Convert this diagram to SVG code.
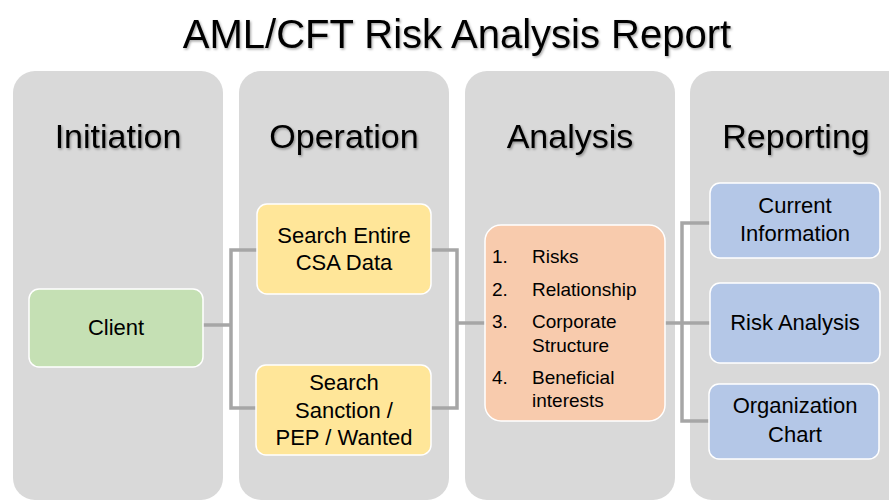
<svg xmlns="http://www.w3.org/2000/svg" width="889" height="501" viewBox="0 0 889 501">
<defs>
<style>
.col{fill:#D9D9D9}
.hdr{font-family:"Liberation Sans",Arial,sans-serif;font-size:34px;fill:#000;text-anchor:middle;filter:url(#sh)}
.ttl{font-family:"Liberation Sans",Arial,sans-serif;font-size:40px;fill:#000;text-anchor:middle;filter:url(#sh)}
.node{stroke:#FFFFFF;stroke-width:1.5}
.t{font-family:"Liberation Sans",Arial,sans-serif;font-size:22px;fill:#000;text-anchor:middle}
.l{font-family:"Liberation Sans",Arial,sans-serif;font-size:19px;fill:#000}
.con{fill:none;stroke:#A6A6A6;stroke-width:3.5}
</style>
<filter id="sh" x="-10%" y="-20%" width="120%" height="150%">
<feDropShadow dx="1.2" dy="1.5" stdDeviation="1" flood-color="#000" flood-opacity="0.35"/>
</filter>
</defs>
<rect width="889" height="501" fill="#FFFFFF"/>
<text class="ttl" x="457" y="48">AML/CFT Risk Analysis Report</text>

<g id="col-initiation">
<rect class="col" x="13" y="71" width="210" height="429" rx="22"/>
<text class="hdr" x="118" y="148">Initiation</text>
</g>
<g id="col-operation">
<rect class="col" x="239" y="71" width="210" height="429" rx="22"/>
<text class="hdr" x="344" y="148">Operation</text>
</g>
<g id="col-analysis">
<rect class="col" x="465" y="71" width="210" height="429" rx="22"/>
<text class="hdr" x="570" y="148">Analysis</text>
</g>
<g id="col-reporting">
<rect class="col" x="690" y="71" width="230" height="429" rx="22"/>
<text class="hdr" x="796" y="148">Reporting</text>
</g>

<g id="connectors">
<polyline class="con" points="203,325 231,325"/>
<polyline class="con" points="257,250 231,250 231,408 256,408"/>
<polyline class="con" points="431,250 457,250 457,408 431,408"/>
<polyline class="con" points="457,323 486,323"/>
<polyline class="con" points="665,323 710,323"/>
<polyline class="con" points="710,223 682,223 682,421 709,421"/>
</g>

<g id="node-client">
<rect class="node" x="29" y="289" width="174" height="78" rx="10" fill="#C5E0B4"/>
<text class="t" x="116" y="335">Client</text>
</g>
<g id="node-search-csa">
<rect class="node" x="257" y="204" width="174" height="90" rx="10" fill="#FFE699"/>
<text class="t" x="344" y="243">Search Entire</text>
<text class="t" x="344" y="270">CSA Data</text>
</g>
<g id="node-search-sanction">
<rect class="node" x="256" y="365" width="175" height="90" rx="10" fill="#FFE699"/>
<text class="t" x="344" y="390">Search</text>
<text class="t" x="344" y="418">Sanction /</text>
<text class="t" x="344" y="445">PEP / Wanted</text>
</g>
<g id="node-analysis">
<rect class="node" x="485" y="225" width="180" height="196" rx="16" fill="#F8CBAD"/>
<text class="l" x="492" y="263">1.</text><text class="l" x="532" y="263">Risks</text>
<text class="l" x="492" y="296">2.</text><text class="l" x="532" y="296">Relationship</text>
<text class="l" x="492" y="328">3.</text><text class="l" x="532" y="328">Corporate</text>
<text class="l" x="532" y="352">Structure</text>
<text class="l" x="492" y="384">4.</text><text class="l" x="532" y="384">Beneficial</text>
<text class="l" x="532" y="407">interests</text>
</g>
<g id="node-current-info">
<rect class="node" x="710" y="183" width="170" height="75" rx="10" fill="#B4C7E7"/>
<text class="t" x="795" y="213">Current</text>
<text class="t" x="795" y="241">Information</text>
</g>
<g id="node-risk-analysis">
<rect class="node" x="710" y="283" width="170" height="80" rx="10" fill="#B4C7E7"/>
<text class="t" x="795" y="330">Risk Analysis</text>
</g>
<g id="node-org-chart">
<rect class="node" x="709" y="384" width="170" height="75" rx="10" fill="#B4C7E7"/>
<text class="t" x="795" y="413">Organization</text>
<text class="t" x="795" y="442">Chart</text>
</g>
</svg>
